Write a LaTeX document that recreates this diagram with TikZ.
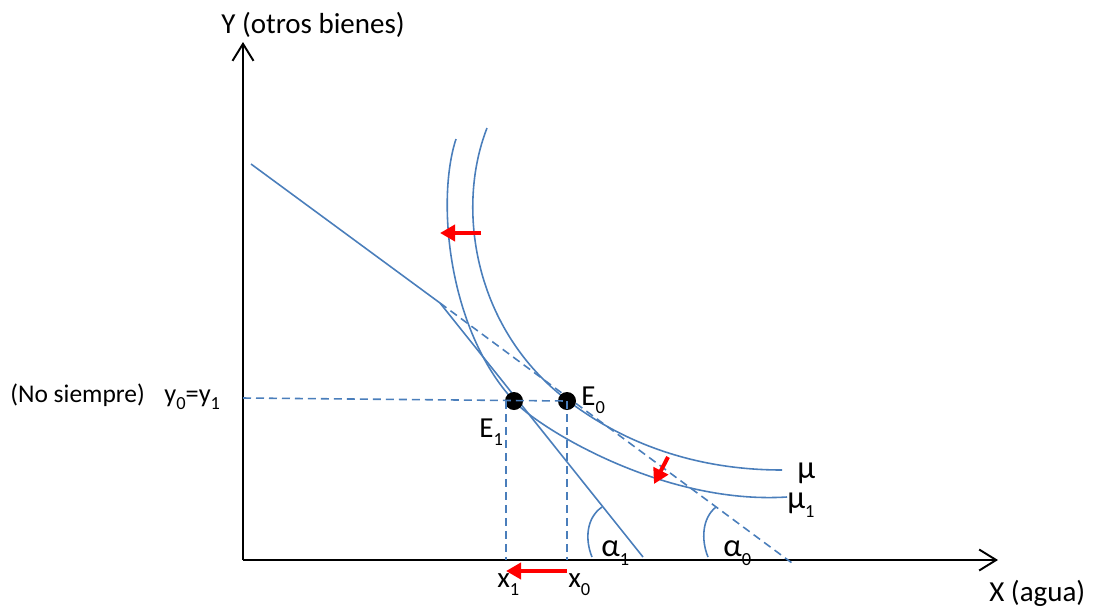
\documentclass[tikz,border=0pt]{standalone}
\usepackage{fontspec}
\setmainfont{Carlito}
\usetikzlibrary{arrows.meta}
\definecolor{AGAxis}{HTML}{000000}
\definecolor{AGCurve}{HTML}{4A7EBB}
\definecolor{AGShift}{HTML}{FF0000}
\definecolor{AGDot}{HTML}{000000}
\newcommand{\lowidx}[1]{\raisebox{-0.6ex}{\fontsize{10.5}{11}\selectfont #1}}

\tikzset{
  axisline/.style={draw=AGAxis,line width=1.1pt,-{Straight Barb[length=0.34cm,width=0.42cm]}},
  curve/.style={draw=AGCurve,line width=0.9pt},
  guide/.style={draw=AGCurve,line width=0.9pt,dash pattern=on 0.16cm off 0.1cm},
  movearrow/.style={draw=AGShift,line width=0.08cm,-{Triangle[length=0.3cm,width=0.32cm]}},
  dot/.style={circle,fill=AGDot,inner sep=0pt,minimum size=0.36cm},
  lbl/.style={inner sep=0pt,anchor=base west},
  greek/.style={lbl,font=\fontsize{18.5}{21}\selectfont}
}

\begin{document}
\begin{tikzpicture}[x=0.02cm,y=-0.02cm,font=\fontsize{16.5}{19}\selectfont]
  \useasboundingbox (0,0) rectangle (1094,609);

  % axes
  \coordinate (O) at (243,560);
  \coordinate (ytop) at (243,42);
  \coordinate (xend) at (998,560);
  \draw[axisline] (O) -- (ytop);
  \draw[axisline] (O) -- (xend);
  \node[lbl] (ylab) at (221,33) {Y (otros bienes)};
  \node[lbl] (xlab) at (989,601) {X (agua)};

  % budget lines
  \coordinate (B0) at (251,164);
  \coordinate (K) at (440,303);
  \coordinate (B1) at (792,563);
  \coordinate (R1) at (643,557);
  \draw[curve] (B0) -- (K);
  \draw[guide] (K) -- (B1);
  \draw[curve] (K) -- (R1);

  % indifference curves
  \draw[curve] (487,128) .. controls (455,210) and (475,330) .. (567,400)
    .. controls (627,446) and (700,470) .. (782,470);
  \draw[curve] (456,139) .. controls (436,200) and (448,330) .. (514,401)
    .. controls (535,425) and (660,505) .. (787,497);
  \node[greek] (mu) at (797,478) {μ};
  \node[greek] (muone) at (787,508) {μ\lowidx{1}};

  % equilibria
  \node[dot] (E1) at (514,401) {};
  \node[dot] (E0) at (567,401) {};
  \node[lbl] (E0lab) at (581,405) {E\lowidx{0}};
  \node[lbl] (E1lab) at (479,437) {E\lowidx{1}};
  \coordinate (y0) at (243,398);
  \coordinate (x1) at (506,560);
  \coordinate (x0) at (567,560);
  \draw[guide] (y0) -- (E0.center);
  \draw[guide] (E1.center -| x1) -- (x1);
  \draw[guide] (E0.center) -- (x0);
  \node[lbl,font=\fontsize{14.5}{17}\selectfont] (nosiempre) at (10,402) {(No siempre)};
  \node[lbl,font=\fontsize{15}{18}\selectfont] (ylevel) at (164,402) {y\lowidx{0}=y\lowidx{1}};
  \node[lbl] (x1lab) at (497,587) {x\lowidx{1}};
  \node[lbl] (x0lab) at (568,587) {x\lowidx{0}};

  % angles
  \draw[curve] (592,557) .. controls (585,540) and (586,518) .. (602,507);
  \draw[curve] (708,557) .. controls (701,540) and (702,518) .. (716,507);
  \node[greek] (a1lab) at (601,556) {α\lowidx{1}};
  \node[greek] (a0lab) at (723,556) {α\lowidx{0}};

  % shifts
  \draw[movearrow] (481,233) -- (440,233);
  \draw[movearrow] (668,457) -- (654,484);
  \draw[movearrow] (567,571) -- (506,571);
\end{tikzpicture}
\end{document}
